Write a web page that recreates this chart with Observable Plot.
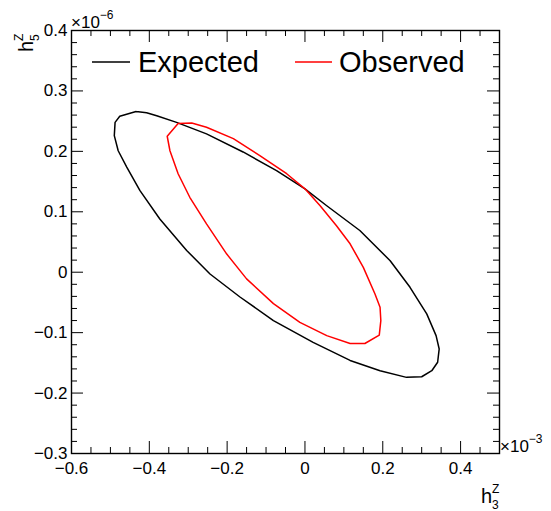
<!DOCTYPE html>
<html><head><meta charset="utf-8">
<script src="https://cdn.jsdelivr.net/npm/d3@7"></script>
<script src="https://cdn.jsdelivr.net/npm/@observablehq/plot@0.6"></script>
<style>
body{margin:0;background:#fff}
svg{font-family:"Liberation Sans",Arial,Helvetica,sans-serif}
</style>
</head><body><div id="chart"></div>
<script>
// Expected contour (h3Z in 1e-3, h5Z in 1e-6)
const expectedX = [-0.434,-0.476,-0.488,-0.490,-0.480,-0.458,-0.424,-0.373,-0.304,-0.244,-0.167,-0.081,0.021,0.116,0.193,0.261,0.300,0.326,0.341,0.345,0.337,0.313,0.270,0.219,0.141,0.056,0.000,-0.073,-0.159,-0.253,-0.330,-0.381,-0.407,-0.434];
const expectedY = [0.266,0.258,0.248,0.226,0.201,0.174,0.135,0.088,0.036,-0.003,-0.041,-0.080,-0.116,-0.146,-0.163,-0.174,-0.173,-0.163,-0.149,-0.127,-0.105,-0.069,-0.025,0.019,0.069,0.110,0.138,0.168,0.199,0.229,0.248,0.259,0.264,0.266];
// Observed contour
const observedX = [-0.326,-0.291,-0.253,-0.184,-0.116,-0.047,0.000,0.039,0.081,0.116,0.150,0.180,0.193,0.195,0.191,0.154,0.116,0.056,-0.013,-0.081,-0.150,-0.201,-0.253,-0.296,-0.326,-0.347,-0.354,-0.326];
const observedY = [0.246,0.247,0.240,0.221,0.193,0.163,0.138,0.110,0.077,0.047,0.008,-0.036,-0.058,-0.080,-0.104,-0.118,-0.118,-0.105,-0.083,-0.052,-0.011,0.030,0.080,0.124,0.163,0.201,0.225,0.246];

const seriesNames = ["Expected","Observed"];
const seriesColors = ["#000000","#ff0000"];

const xTicks = [-0.6,-0.4,-0.2,0,0.2,0.4];
const xTickLabels = ["\u22120.6","\u22120.4","\u22120.2","0","0.2","0.4"];
const xMinorTicks = [-0.55,-0.5,-0.45,-0.35,-0.3,-0.25,-0.15,-0.1,-0.05,0.05,0.1,0.15,0.25,0.3,0.35,0.45];
const yTicks = [-0.3,-0.2,-0.1,0,0.1,0.2,0.3,0.4];
const yTickLabels = ["\u22120.3","\u22120.2","\u22120.1","0","0.1","0.2","0.3","0.4"];
const yMinorTicks = [];
for (let i = -15; i <= 20; i++) { if (i % 5 !== 0) yMinorTicks.push(i / 50); }

const xExponent = "\u22123", yExponent = "\u22126";

const rows = [];
expectedX.forEach((x, i) => rows.push({series: seriesNames[0], x, y: expectedY[i]}));
observedX.forEach((x, i) => rows.push({series: seriesNames[1], x, y: observedY[i]}));

const W = 551, H = 511, mT = 30, mR = 52, mB = 58, mL = 71;
const iW = W - mL - mR, iH = H - mT - mB;
const major = 12, minor = 6;

const svg = Plot.plot({
  width: W, height: H,
  marginTop: mT, marginRight: mR, marginBottom: mB, marginLeft: mL,
  x: {domain: [-0.6, 0.5]},
  y: {domain: [-0.3, 0.4]},
  color: {domain: seriesNames, range: seriesColors},
  style: {fontFamily: '"Liberation Sans",Arial,sans-serif', background: "white", color: "black"},
  marks: [
    Plot.ruleX(xTicks, {insetTop: iH - major, stroke: "black"}),
    Plot.ruleX(xMinorTicks, {insetTop: iH - minor, stroke: "black"}),
    Plot.ruleX(xTicks, {insetBottom: iH - major, stroke: "black"}),
    Plot.ruleX(xMinorTicks, {insetBottom: iH - minor, stroke: "black"}),
    Plot.ruleY(yTicks, {insetRight: iW - major, stroke: "black"}),
    Plot.ruleY(yMinorTicks, {insetRight: iW - minor, stroke: "black"}),
    Plot.ruleY(yTicks, {insetLeft: iW - major, stroke: "black"}),
    Plot.ruleY(yMinorTicks, {insetLeft: iW - minor, stroke: "black"}),
    Plot.line(rows, {x: "x", y: "y", z: "series", stroke: "series", strokeWidth: 1.5}),
    Plot.frame({stroke: "black", strokeWidth: 1.4}),
    Plot.axisX(xTicks, {tickSize: 0, tickPadding: 8, fontSize: 17, label: null,
      tickFormat: d => xTickLabels[xTicks.indexOf(d)]}),
    Plot.axisY(yTicks, {tickSize: 0, tickPadding: 4, fontSize: 17, label: null,
      tickFormat: d => yTickLabels[yTicks.indexOf(d)]})
  ]
});
document.getElementById("chart").appendChild(svg);

const s = d3.select(svg);
const ff = '"Liberation Sans",Arial,sans-serif';
const txt = (parent) => parent.append("text").attr("font-family", ff).attr("fill", "black").attr("text-anchor", "start");

// exponent labels
const ey = txt(s).attr("x", 71).attr("y", 28).attr("font-size", 17);
ey.append("tspan").text("\u00d710");
ey.append("tspan").attr("font-size", 12).attr("dy", -9).text(yExponent);
const ex = txt(s).attr("x", 500).attr("y", 452).attr("font-size", 17);
ex.append("tspan").text("\u00d710");
ex.append("tspan").attr("font-size", 12).attr("dy", -9).text(xExponent);

// x axis title h_3^Z
txt(s).attr("x", 481).attr("y", 503).attr("font-size", 20).text("h");
txt(s).attr("x", 492).attr("y", 509).attr("font-size", 12).text("3");
txt(s).attr("x", 492).attr("y", 493).attr("font-size", 12).text("Z");

// y axis title h_5^Z (rotated)
const ty = s.append("g").attr("transform", "translate(33,52) rotate(-90)");
txt(ty).attr("x", 0).attr("y", 0).attr("font-size", 20).text("h");
txt(ty).attr("x", 11).attr("y", 6).attr("font-size", 12).text("5");
txt(ty).attr("x", 11).attr("y", -10).attr("font-size", 12).text("Z");

// legend
const leg = [{x1: 92, x2: 130, tx: 138}, {x1: 295, x2: 332, tx: 339}];
leg.forEach((l, i) => {
  s.append("line").attr("x1", l.x1).attr("x2", l.x2).attr("y1", 62).attr("y2", 62)
    .attr("stroke", seriesColors[i]).attr("stroke-width", 1.5);
  txt(s).attr("x", l.tx).attr("y", 72).attr("font-size", 29).text(seriesNames[i]);
});
</script>
</body></html>
